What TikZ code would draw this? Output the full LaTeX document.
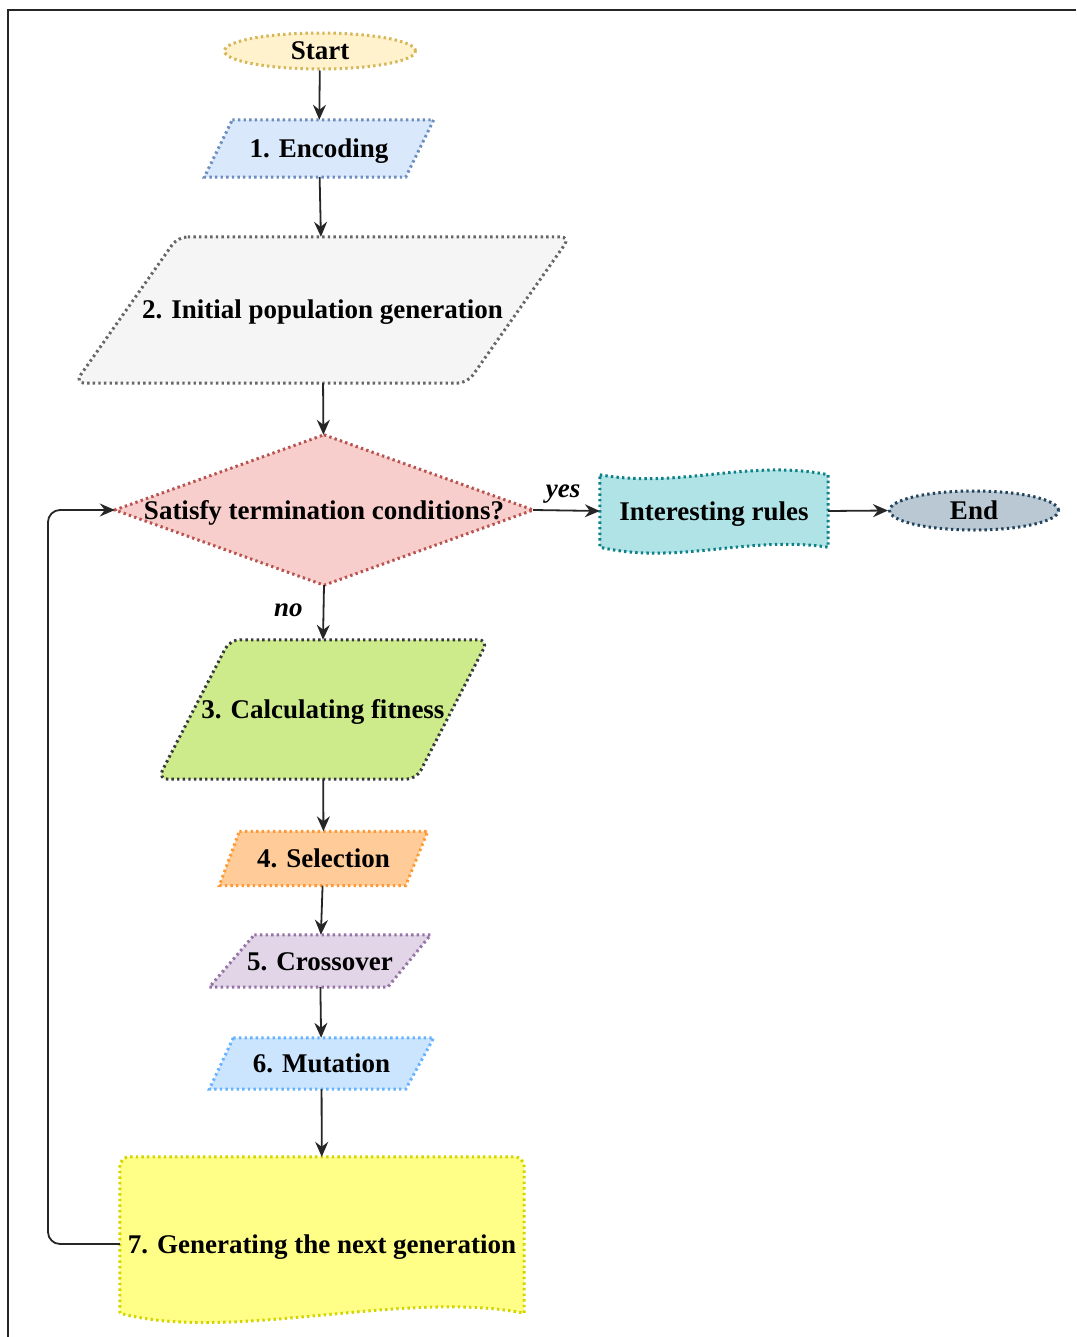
\documentclass[tikz,border=0pt]{standalone}
\usepackage{fontspec}
\setmainfont{Liberation Serif}
\usetikzlibrary{arrows.meta,shapes.geometric,backgrounds}

\definecolor{yelF}{HTML}{FFF2CC}\definecolor{yelS}{HTML}{D6B656}
\definecolor{bluF}{HTML}{DAE8FC}\definecolor{bluS}{HTML}{6C8EBF}
\definecolor{grayF}{HTML}{F5F5F5}\definecolor{grayS}{HTML}{666666}
\definecolor{redF}{HTML}{F8CECC}\definecolor{redS}{HTML}{B85450}
\definecolor{tealF}{HTML}{B0E3E6}\definecolor{tealS}{HTML}{0E8088}
\definecolor{slateF}{HTML}{BAC8D3}\definecolor{slateS}{HTML}{23445D}
\definecolor{grnF}{HTML}{CDEB8B}\definecolor{grnS}{HTML}{36393D}
\definecolor{orgF}{HTML}{FFCC99}\definecolor{orgS}{HTML}{FF9933}
\definecolor{purF}{HTML}{E1D5E7}\definecolor{purS}{HTML}{9673A6}
\definecolor{lbluF}{HTML}{CCE5FF}\definecolor{lbluS}{HTML}{66B2FF}
\definecolor{docF}{HTML}{FFFF88}\definecolor{docS}{HTML}{D4D400}

\tikzset{
  txt/.style={inner sep=0pt, text height=18pt, text depth=0pt,
    font=\fontsize{27}{32}\selectfont\bfseries, text=black},
  dots/.style={line width=3pt, dash pattern=on 2.4pt off 3.2pt},
  edge/.style={line width=1.8pt, draw=black!85, -{Stealth[length=15pt,width=13pt,inset=5pt]}},
  lbl/.style={font=\fontsize{27}{32}\selectfont\bfseries\itshape, inner sep=0pt},
}

\begin{document}
\begin{tikzpicture}[x=1pt,y=-1pt]
\useasboundingbox (0,0) rectangle (1076,1337);

% outer frame
\draw[line width=1.3pt, black!85] (8,1337) -- (8,10) -- (1076,10);

% text nodes (each spans the box of its shape)
\node[txt, ellipse, draw=yelS, fill=yelF, dots, minimum width=191pt, minimum height=36pt] (start) at (320,51) {Start};
\node[txt, minimum width=229pt, minimum height=57pt] (enc) at (319,148.5) {1. Encoding};
\node[txt, minimum width=495pt, minimum height=146pt] (init) at (322.5,310) {2. Initial population generation};
\node[txt, minimum width=418pt, minimum height=150pt] (cond) at (324,510) {Satisfy termination conditions?};
\node[txt, minimum width=228pt, minimum height=80pt] (rules) at (714,511) {Interesting rules};
\node[txt, ellipse, draw=slateS, fill=slateF, dots, minimum width=169pt, minimum height=39pt] (end) at (974,510.5) {End};
\node[txt, minimum width=330pt, minimum height=139pt] (fit) at (323,709.5) {3. Calculating fitness};
\node[txt, minimum width=208pt, minimum height=54pt] (sel) at (323.5,858.5) {4. Selection};
\node[txt, minimum width=221pt, minimum height=52pt] (cross) at (320,961) {5. Crossover};
\node[txt, minimum width=224pt, minimum height=51pt] (mut) at (321.5,1063.5) {6. Mutation};
\node[txt, minimum width=404pt, minimum height=174pt] (gen) at (322,1244) {7. Generating the next generation};

% shapes behind the text
\begin{scope}[on background layer]
  \path[draw=bluS, fill=bluF, dots]
    ([xshift=28pt]enc.north west) -- (enc.north east) -- ([xshift=-28pt]enc.south east) -- (enc.south west) -- cycle;
  \path[draw=grayS, fill=grayF, dots, rounded corners=10pt]
    ([xshift=103pt]init.north west) -- (init.north east) -- ([xshift=-103pt]init.south east) -- (init.south west) -- cycle;
  \path[draw=redS, fill=redF, dots]
    (cond.north) -- (cond.east) -- (cond.south) -- (cond.west) -- cycle;
  \path[draw=tealS, fill=tealF, dots]
    ([yshift=-4pt]rules.north west) .. controls ([xshift=80pt,yshift=-18pt]rules.north west) and ([xshift=-78pt,yshift=12pt]rules.north east) .. ([yshift=-4pt]rules.north east)
    -- ([yshift=4pt]rules.south east) .. controls ([xshift=-80pt,yshift=16pt]rules.south east) and ([xshift=78pt,yshift=-14pt]rules.south west) .. ([yshift=4pt]rules.south west) -- cycle;
  \path[draw=grnS, fill=grnF, dots, rounded corners=10pt]
    ([xshift=72pt]fit.north west) -- (fit.north east) -- ([xshift=-72pt]fit.south east) -- (fit.south west) -- cycle;
  \path[draw=orgS, fill=orgF, dots]
    ([xshift=20pt]sel.north west) -- (sel.north east) -- ([xshift=-22pt]sel.south east) -- (sel.south west) -- cycle;
  \path[draw=purS, fill=purF, dots]
    ([xshift=45pt]cross.north west) -- (cross.north east) -- ([xshift=-43pt]cross.south east) -- (cross.south west) -- cycle;
  \path[draw=lbluS, fill=lbluF, dots]
    ([xshift=24pt]mut.north west) -- (mut.north east) -- ([xshift=-28pt]mut.south east) -- (mut.south west) -- cycle;
  \path[draw=docS, fill=docF, dots]
    ([yshift=18pt]gen.south west) -- ([yshift=-10pt]gen.north west) arc[start angle=180, end angle=90, radius=10pt]
    -- ([xshift=-10pt]gen.north east) arc[start angle=90, end angle=0, radius=10pt]
    -- ([yshift=18pt]gen.south east)
    .. controls ([xshift=-120pt,yshift=42pt]gen.south east) and ([xshift=110pt,yshift=-12pt]gen.south west) .. ([yshift=18pt]gen.south west) -- cycle;
\end{scope}

% connectors
\draw[edge] (start) -- (enc);
\draw[edge] (enc) -- (init);
\draw[edge] (init) -- (cond);
\draw[edge] (cond.south) -- node[lbl, pos=0.45, left=20pt] {no} (fit.north);
\draw[edge] (cond.east) -- node[lbl, above=6pt, pos=0.45] {yes} (rules.west);
\draw[edge] (rules.east) -- (end.west);
\draw[edge] (fit) -- (sel);
\draw[edge] (sel) -- (cross);
\draw[edge] (cross) -- (mut);
\draw[edge] (mut) -- (gen);
\draw[edge, rounded corners=12pt] (gen.west) -| (48,700) |- (cond.west);

\end{tikzpicture}
\end{document}
